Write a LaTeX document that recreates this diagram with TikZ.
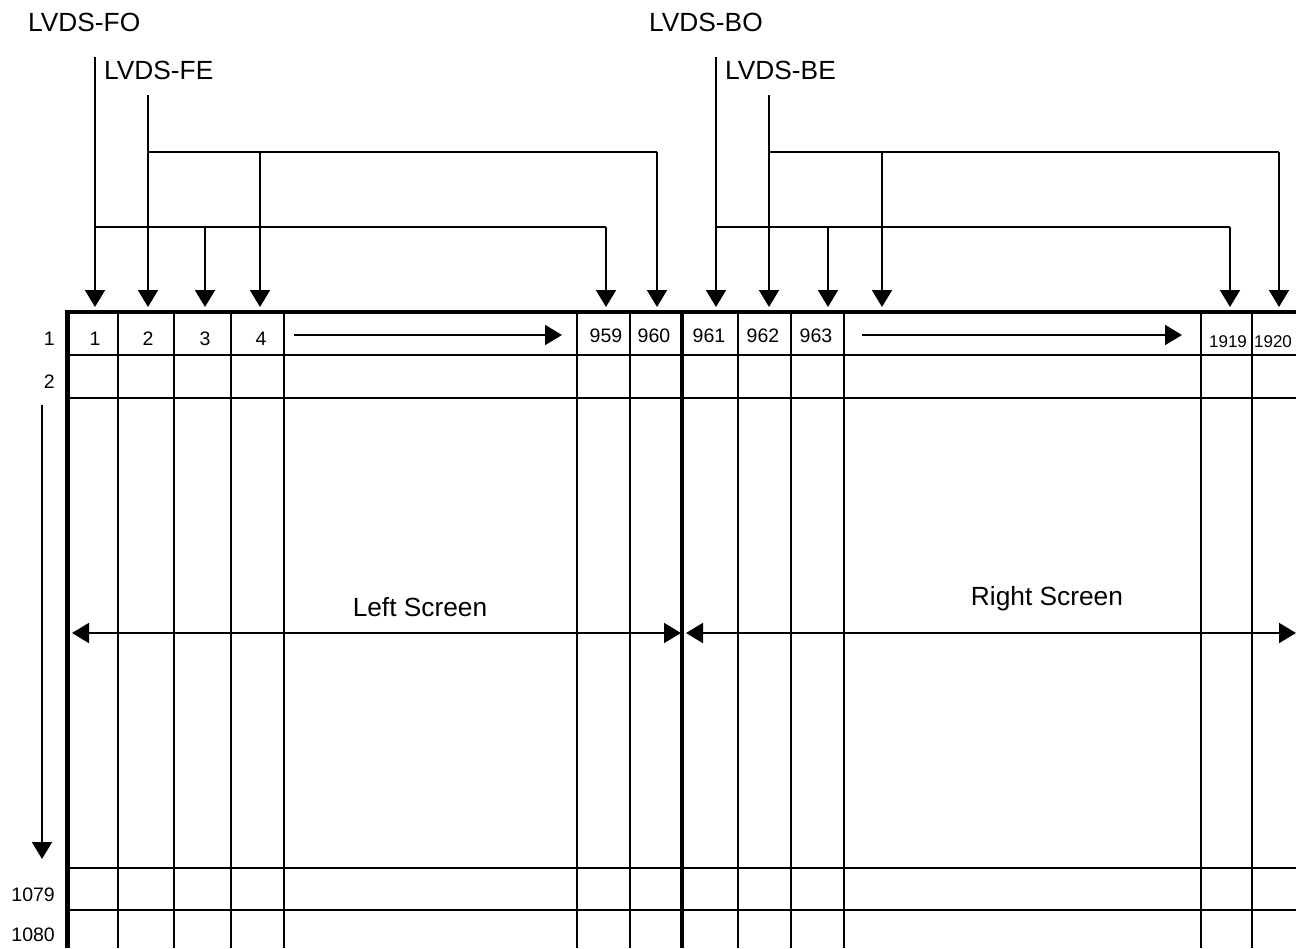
\documentclass[tikz,border=0pt]{standalone}
\usepackage{fontspec}
\setmainfont{Liberation Sans}
\usetikzlibrary{arrows.meta}
\begin{document}
\begin{tikzpicture}[x=1pt,y=-1pt,
  gridline/.style={line width=1.9pt},
  border/.style={line width=4.5pt},
  midline/.style={line width=3.2pt},
  wire/.style={line width=1.9pt},
  feed/.style={wire,-{Triangle[width=20pt,length=17pt]}},
  span/.style={wire,{Triangle[width=20pt,length=17pt]}-{Triangle[width=20pt,length=17pt]}},
  big/.style={font=\fontsize{26.3}{31}\selectfont,inner sep=0pt},
  cell/.style={font=\fontsize{19.5}{23}\selectfont,inner sep=0pt},
  tinycell/.style={font=\fontsize{17}{20}\selectfont,inner sep=0pt}]
\useasboundingbox (0,0) rectangle (1296,948);

% grid
\foreach \x in {118,174,231,284,577,630,738,791,844,1201,1252}
  \draw[gridline] (\x,312) -- (\x,948);
\foreach \y in {355,398,868,910}
  \draw[gridline] (68,\y) -- (1296,\y);
\draw[midline] (682,312) -- (682,948);
\draw[border] (67.5,948) -- (67.5,312) -- (1296,312);

% row labels
\node[cell,anchor=east] (r1) at (55,339) {1};
\node[cell,anchor=east] (r2) at (55,382) {2};
\node[cell,anchor=east] (r1079) at (55,895) {1079};
\node[cell,anchor=east] (r1080) at (55,935) {1080};

% column labels
\node[cell] (c1) at (95,339) {1};
\node[cell] (c2) at (148,339) {2};
\node[cell] (c3) at (205,339) {3};
\node[cell] (c4) at (261,339) {4};
\node[cell] (c959) at (606,336) {959};
\node[cell] (c960) at (654,336) {960};
\node[cell] (c961) at (709,336) {961};
\node[cell] (c962) at (763,336) {962};
\node[cell] (c963) at (816,336) {963};
\node[tinycell] (c1919) at (1228,342) {1919};
\node[tinycell] (c1920) at (1273,342) {1920};

% row direction arrows
\coordinate (la0) at (294,335); \coordinate (la1) at (562,335);
\coordinate (ra0) at (862,335); \coordinate (ra1) at (1182,335);
\draw[feed] (la0) -- (la1);
\draw[feed] (ra0) -- (ra1);

% vertical row arrow
\coordinate (va0) at (42,405); \coordinate (va1) at (42,859);
\draw[feed] (va0) -- (va1);

% screen spans
\coordinate (ls0) at (72,633); \coordinate (ls1) at (681,633);
\coordinate (rs0) at (686,633); \coordinate (rs1) at (1296,633);
\draw[span] (ls0) -- (ls1);
\draw[span] (rs0) -- (rs1);
\node[big] (left) at (420,607) {Left Screen};
\node[big] (right) at (1047,599) {Right Screen};

% LVDS labels
\node[big,anchor=west] (fo) at (28,22) {LVDS-FO};
\node[big,anchor=west] (fe) at (104,70) {LVDS-FE};
\node[big,anchor=west] (bo) at (649,22) {LVDS-BO};
\node[big,anchor=west] (be) at (725,70) {LVDS-BE};

% tips
\foreach \n/\x in {t1/95,t2/148,t3/205,t4/260,t959/606,t960/657,t961/716,t962/769,t963/828,t964/882,t1919/1230,t1920/1279}
  \coordinate (\n) at (\x,307);

% LVDS-FO
\coordinate (foS) at (95,57); \coordinate (foJ) at (95,227);
\coordinate (foB) at (205,227); \coordinate (foR) at (606,227);
\draw[feed] (foS) -- (t1);
\draw[wire] (foJ) -- (foR);
\draw[feed] (foB) -- (t3);
\draw[feed] (foR) -- (t959);

% LVDS-FE
\coordinate (feS) at (148,95); \coordinate (feJ) at (148,152);
\coordinate (feB) at (260,152); \coordinate (feR) at (657,152);
\draw[feed] (feS) -- (t2);
\draw[wire] (feJ) -- (feR);
\draw[feed] (feB) -- (t4);
\draw[feed] (feR) -- (t960);

% LVDS-BO
\coordinate (boS) at (716,57); \coordinate (boJ) at (716,227);
\coordinate (boB) at (828,227); \coordinate (boR) at (1230,227);
\draw[feed] (boS) -- (t961);
\draw[wire] (boJ) -- (boR);
\draw[feed] (boB) -- (t963);
\draw[feed] (boR) -- (t1919);

% LVDS-BE
\coordinate (beS) at (769,95); \coordinate (beJ) at (769,152);
\coordinate (beB) at (882,152); \coordinate (beR) at (1279,152);
\draw[feed] (beS) -- (t962);
\draw[wire] (beJ) -- (beR);
\draw[feed] (beB) -- (t964);
\draw[feed] (beR) -- (t1920);
\end{tikzpicture}
\end{document}
